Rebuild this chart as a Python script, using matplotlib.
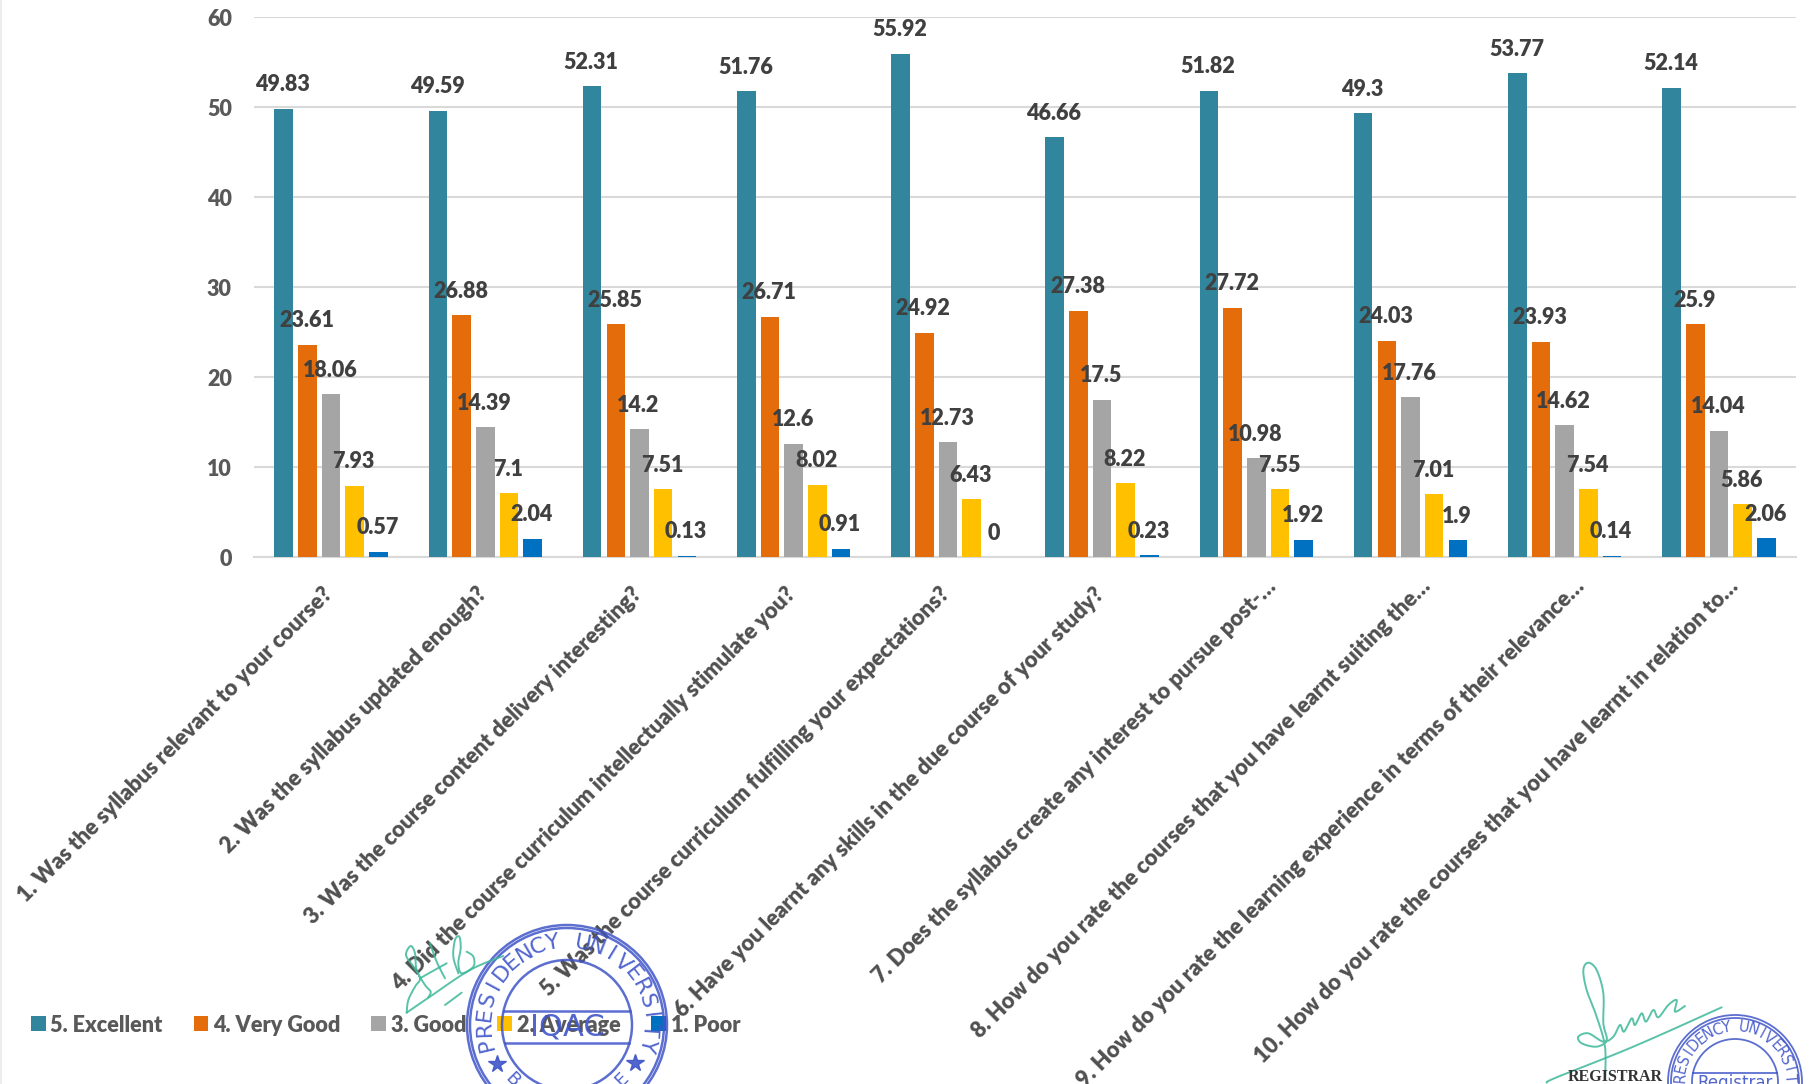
import numpy as np
import matplotlib
matplotlib.use("Agg")
import matplotlib.pyplot as plt
from matplotlib.patches import Ellipse, Rectangle
from matplotlib.transforms import ScaledTranslation

categories = [
    "1. Was the syllabus relevant to your course?",
    "2. Was the syllabus updated enough?",
    "3. Was the course content delivery interesting?",
    "4. Did the course curriculum intellectually stimulate you?",
    "5. Was the course curriculum fulfilling your expectations?",
    "6. Have you learnt any skills in the due course of your study?",
    "7. Does the syllabus create any interest to pursue post-…",
    "8. How do you rate the courses that you have learnt suiting the…",
    "9. How do you rate the learning experience in terms of their relevance…",
    "10. How do you rate the courses that you have learnt in relation to…",
]
excellent = [49.83, 49.59, 52.31, 51.76, 55.92, 46.66, 51.82, 49.3, 53.77, 52.14]
very_good = [23.61, 26.88, 25.85, 26.71, 24.92, 27.38, 27.72, 24.03, 23.93, 25.9]
good = [18.06, 14.39, 14.2, 12.6, 12.73, 17.5, 10.98, 17.76, 14.62, 14.04]
average = [7.93, 7.1, 7.51, 8.02, 6.43, 8.22, 7.55, 7.01, 7.54, 5.86]
poor = [0.57, 2.04, 0.13, 0.91, 0, 0.23, 1.92, 1.9, 0.14, 2.06]
series_names = ["5. Excellent", "4. Very Good", "3. Good", "2. Average", "1. Poor"]
series_colors = ["#31859C", "#E46C0A", "#A5A5A5", "#FFC000", "#0070C0"]

W, H = 1816, 1084
plt.rcParams["font.family"] = ["Lato", "DejaVu Sans"]

fig = plt.figure(figsize=(W / 100, H / 100), dpi=100, facecolor="white")
L, R, T, B = 254, 1796, 17, 557
ax = fig.add_axes([L / W, 1 - B / H, (R - L) / W, (B - T) / H])
ax.set_xlim(-0.5, 9.5)
ax.set_ylim(0, 60)

x = np.arange(len(categories))
pitch, width = 0.1535, 0.121
for i, (vals, name, col) in enumerate(zip([excellent, very_good, good, average, poor],
                                          series_names, series_colors)):
    bars = ax.bar(x + (i - 2) * pitch, vals, width, color=col, label=name, zorder=3)
    for rect, v in zip(bars, vals):
        ax.annotate(f"{v:g}", (rect.get_x() + rect.get_width() / 2, v),
                    xytext=(-0.7, 17.2), textcoords="offset points", ha="center", va="center",
                    fontsize=15.5, fontweight="heavy", color="#404040", zorder=5, annotation_clip=False)

for s in ["top", "right", "left"]:
    ax.spines[s].set_visible(False)
ax.spines["bottom"].set_color("#D9D9D9")
ax.spines["bottom"].set_linewidth(1.5)
ax.set_yticks(np.arange(0, 61, 10))
ax.yaxis.grid(True, color="#D9D9D9", linewidth=1.5, zorder=0)
ax.set_axisbelow(True)
ax.tick_params(axis="y", length=0, pad=16)
for t in ax.get_yticklabels():
    t.set(fontsize=15.5, color="#595959", fontweight="heavy")
ax.set_xticks(x)
ax.set_xticklabels(categories, rotation=45, ha="right", va="top", rotation_mode="anchor",
                   fontsize=15.8, color="#505050", fontweight="heavy")
ax.tick_params(axis="x", length=0, pad=14)
for t in ax.get_xticklabels():
    dx, dy = (9, 1) if t.get_text().endswith("…") else (-9, -7)
    t.set_transform(t.get_transform() + ScaledTranslation(dx / 100, dy / 100, fig.dpi_scale_trans))

h, l = ax.get_legend_handles_labels()
fig.legend(h, l, ncol=5, loc="center left", bbox_to_anchor=(31 / W, 1 - 1025 / H),
           frameon=False, labelcolor="#595959", handlelength=0.68, handleheight=0.68,
           handletextpad=0.22, columnspacing=1.42, borderpad=0, borderaxespad=0,
           prop={"weight": "heavy", "size": 15.6})

# Overlay: stamps and signatures in pixel space
ov = fig.add_axes([0, 0, 1, 1], facecolor="none", zorder=10)
ov.set_xlim(0, W)
ov.set_ylim(H, 0)
ov.axis("off")
ov.add_patch(Rectangle((0, 0), 2, H, color="#EDEDED", lw=0))
BLUE = "#3F55C8"
GREEN = "#3DB89A"


def arc_text(cx, cy, r, text, a0, a1, size):
    for ch, a in zip(text, np.linspace(a0, a1, len(text))):
        t = np.radians(a)
        py = cy - r * np.cos(t)
        if py > H - 4:
            continue
        rot = -a if abs(a) <= 110 else 180 - a
        ov.text(cx + r * np.sin(t), py, ch, rotation=rot, ha="center", va="center",
                fontsize=size, color=BLUE, family="DejaVu Sans", alpha=0.9)


def stamp(cx, cy, r1, r2, band, lw):
    for r in (r1, r1 - 3, r2):
        ov.add_patch(Ellipse((cx, cy), 2 * r, 2 * r, fill=False, ec=BLUE, lw=lw, alpha=0.85, clip_on=True))
    for y in band:
        d = np.sqrt(max(r2 ** 2 - (y - cy) ** 2, 0))
        ov.plot([cx - d, cx + d], [y, y], color=BLUE, lw=lw, alpha=0.85)


stamp(567, 1025, 100, 65, (1011, 1043), 1.8)
arc_text(567, 1025, 83, "PRESIDENCY UNIVERSITY", -103, 104, 16)
arc_text(567, 1025, 77, "BANGALORE", 225, 135, 13)
ov.text(567, 1027, "IQAC", ha="center", va="center", fontsize=22, color=BLUE,
        family="DejaVu Sans", alpha=0.9)
ov.plot([497, 635], [1064, 1063], ls="", marker="*", ms=13, color=BLUE, alpha=0.9)

stamp(1735, 1082, 67, 43, (1073,), 1.3)
arc_text(1735, 1082, 55, "PRESIDENCY UNIVERSITY", -95, 95, 10.5)
ov.text(1735, 1083, "Registrar", ha="center", va="center", fontsize=12, color=BLUE,
        family="DejaVu Sans", alpha=0.9)
ov.text(1615, 1077, "REGISTRAR", ha="center", va="center", fontsize=11.5, color="#333333",
        family="Liberation Serif", fontweight="bold")


def smooth(pts, n=12):
    p = np.array(pts, float)
    p = np.vstack([p[0], p, p[-1]])
    out = []
    for i in range(1, len(p) - 2):
        for t in np.linspace(0, 1, n, endpoint=False):
            out.append(0.5 * (2 * p[i] + (p[i + 1] - p[i - 1]) * t
                              + (2 * p[i - 1] - 5 * p[i] + 4 * p[i + 1] - p[i + 2]) * t ** 2
                              + (3 * p[i] - p[i - 1] - 3 * p[i + 1] + p[i + 2]) * t ** 3))
    out.append(p[-2])
    return np.array(out)


def sig(pts, tf, lw=1.4):
    s = smooth([tf(*q) for q in pts])
    ov.plot(s[:, 0], s[:, 1], color=GREEN, lw=lw, alpha=0.85, solid_capstyle="round")


tf2 = lambda a, b: (1400 + a / 3, 900 + b / 3)
sig([(615, 540), (615, 440), (590, 350), (560, 270), (550, 210), (565, 188), (590, 210), (610, 280),
     (610, 370), (620, 420), (590, 440), (545, 430), (535, 410), (565, 400), (610, 425), (640, 410),
     (660, 375), (672, 395), (695, 355), (705, 375), (725, 340), (738, 365), (760, 330), (775, 352),
     (805, 315), (830, 300), (825, 335), (855, 318)], tf2)
sig([(440, 548), (470, 532), (700, 440), (965, 322)], tf2)

tf1 = lambda a, b: (390 + a / 3, 920 + b / 3)
sig([(340, 108), (240, 150), (120, 230), (50, 278)], tf1)
sig([(50, 278), (55, 240), (75, 200), (90, 175), (70, 140), (48, 105), (62, 78), (75, 100), (80, 150),
     (105, 195), (122, 215), (115, 232)], tf1)
sig([(90, 175), (125, 155), (170, 130)], tf1)
sig([(120, 70), (140, 125), (165, 175)], tf1)
sig([(205, 160), (190, 110), (195, 60), (208, 50), (212, 85), (205, 130), (215, 160), (250, 140),
     (250, 110), (230, 95)], tf1)
sig([(165, 255), (215, 218)], tf1)

fig.savefig("out.png", dpi=100, facecolor="white")
